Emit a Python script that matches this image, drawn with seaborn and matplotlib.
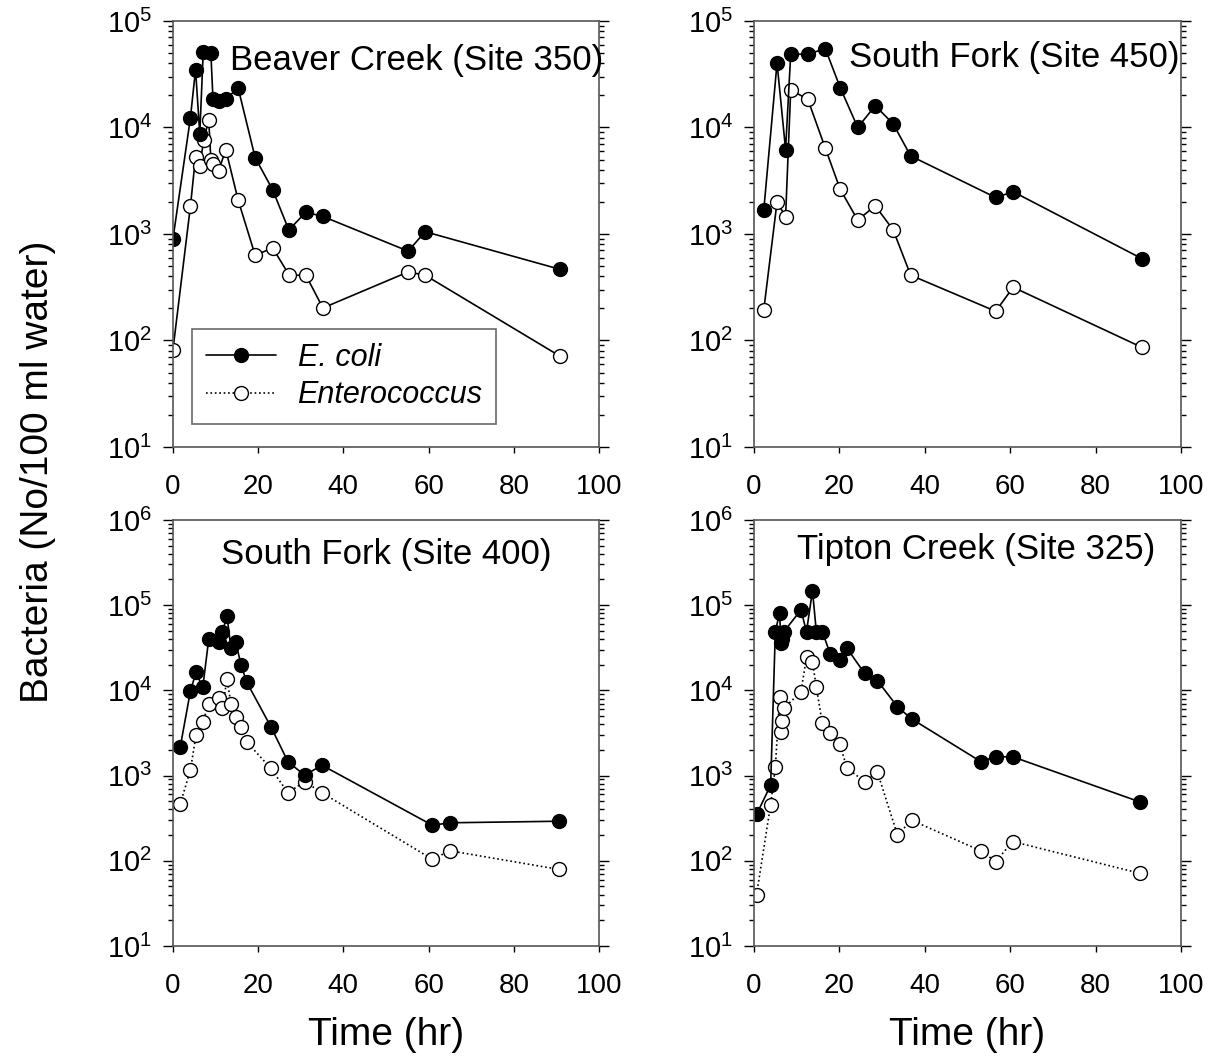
import numpy as np
import pandas as pd
import matplotlib.pyplot as plt
import matplotlib.ticker as mticker
from matplotlib.lines import Line2D
import seaborn as sns

# Beaver Creek (Site 350)
t350_ec = [0, 4.1, 5.3, 6.3, 7.1, 8.9, 9.4, 10.7, 12.4, 15.3, 19.3, 23.4, 27.2, 31.2, 35.2, 55.2, 59.2, 90.9]
ecoli350 = [900, 12300, 35000, 8700, 51000, 50000, 18300, 17800, 18500, 23500, 5200, 2600, 1090, 1600, 1460, 690, 1050, 465]
t350_ent = [0, 4.1, 5.3, 6.3, 7.2, 8.4, 8.9, 9.5, 10.7, 12.4, 15.3, 19.3, 23.4, 27.3, 31.2, 35.2, 55.2, 59.2, 90.9]
ent350 = [82, 1820, 5300, 4300, 7600, 11700, 5000, 4500, 3900, 6200, 2080, 630, 740, 410, 410, 202, 440, 410, 71]

# South Fork (Site 450)
t450 = [2.3, 5.4, 7.4, 8.6, 12.6, 16.7, 20.2, 24.3, 28.4, 32.6, 36.7, 56.6, 60.7, 90.9]
ecoli450 = [1690, 40300, 6200, 48700, 48700, 55000, 23600, 10000, 16000, 10800, 5400, 2200, 2490, 585]
ent450 = [195, 2000, 1450, 22500, 18400, 6400, 2620, 1350, 1840, 1090, 410, 188, 316, 86]

# South Fork (Site 400)
t400 = [1.7, 4.1, 5.4, 7.0, 8.4, 10.7, 11.6, 12.7, 13.6, 14.7, 16.0, 17.3, 23.0, 27.0, 30.9, 35.0, 60.9, 65.0, 90.7]
ecoli400 = [2150, 9800, 16200, 10800, 40000, 37200, 48800, 74500, 31100, 37200, 19800, 12500, 3730, 1450, 1010, 1320, 261, 279, 291]
ent400 = [462, 1160, 2960, 4240, 6840, 8040, 6140, 13600, 6900, 4850, 3700, 2490, 1210, 627, 850, 627, 104, 131, 79]

# Tipton Creek (Site 325)
t325 = [0.6, 3.9, 5.0, 6.0, 6.3, 6.5, 7.0, 11.0, 12.3, 13.7, 14.6, 16.0, 17.9, 20.1, 21.8, 25.9, 28.9, 33.6, 36.9, 53.1, 56.6, 60.6, 90.5]
ecoli325 = [349, 771, 48800, 81700, 35600, 40000, 48800, 87800, 48800, 148000, 48800, 48800, 26400, 22900, 31100, 15800, 13000, 6410, 4630, 1460, 1660, 1660, 488]
ent325 = [40, 457, 1245, 8260, 3240, 4360, 6200, 9550, 24600, 21300, 11000, 4090, 3180, 2320, 1220, 850, 1100, 201, 299, 131, 98, 168, 71]

sns.set_style('ticks')
plt.rcParams['font.family'] = ['Liberation Sans', 'DejaVu Sans']
plt.rcParams['mathtext.fontset'] = 'custom'
plt.rcParams['mathtext.rm'] = 'Liberation Sans'
plt.rcParams['mathtext.it'] = 'Liberation Sans:italic'
plt.rcParams['text.color'] = 'black'
plt.rcParams['xtick.color'] = 'black'
plt.rcParams['ytick.color'] = 'black'

fig = plt.figure(figsize=(12.12, 10.63), dpi=100)
ax1 = fig.add_axes([0.1427, 0.5795, 0.3515, 0.4008])
ax2 = fig.add_axes([0.6221, 0.5795, 0.3523, 0.4008])
ax3 = fig.add_axes([0.1427, 0.1101, 0.3515, 0.4008])
ax4 = fig.add_axes([0.6221, 0.1101, 0.3523, 0.4008])

ms = 10
lw = 1.2


def draw_panel(ax, t_ec, ec, t_ent, ent, ent_ls, title, tx, ty, ytop):
    sns.lineplot(x=t_ent, y=ent, ax=ax, estimator=None, sort=False, color='black',
                 linestyle=ent_ls, linewidth=lw, marker='o', markersize=ms,
                 markerfacecolor='white', markeredgecolor='black', markeredgewidth=1)
    sns.lineplot(x=t_ec, y=ec, ax=ax, estimator=None, sort=False, color='black',
                 linestyle='-', linewidth=lw, marker='o', markersize=ms,
                 markerfacecolor='black', markeredgecolor='black', markeredgewidth=1)
    ax.set_yscale('log')
    ax.set_ylim(10, ytop)
    ax.set_xlim(0, 100)
    ax.set_xticks([0, 20, 40, 60, 80, 100])
    ax.yaxis.set_major_locator(mticker.LogLocator(base=10, numticks=10))
    ax.yaxis.set_minor_locator(mticker.LogLocator(base=10, subs=np.arange(2, 10), numticks=10))
    ax.yaxis.set_minor_formatter(mticker.NullFormatter())
    ax.tick_params(axis='y', which='major', left=True, right=True, direction='out',
                   length=7, width=1, labelsize=21, pad=8)
    ax.tick_params(axis='y', which='minor', left=True, right=True, direction='out',
                   length=3.6, width=1)
    ax.tick_params(axis='x', which='major', bottom=True, top=False, direction='out',
                   length=4.5, width=1, labelsize=20, pad=15)
    for s in ax.spines.values():
        s.set_visible(True)
        s.set_color('#555555')
        s.set_linewidth(1.2)
    ax.set_xlabel('')
    ax.set_ylabel('')
    ax.text(tx, ty, title, transform=ax.transAxes, ha='center', va='center', fontsize=25)


draw_panel(ax1, t350_ec, ecoli350, t350_ent, ent350, '-', 'Beaver Creek (Site 350)', 0.573, 0.908, 1e5)
draw_panel(ax2, t450, ecoli450, t450, ent450, '-', 'South Fork (Site 450)', 0.609, 0.915, 1e5)
draw_panel(ax3, t400, ecoli400, t400, ent400, ':', 'South Fork (Site 400)', 0.5, 0.918, 1e6)
draw_panel(ax4, t325, ecoli325, t325, ent325, ':', 'Tipton Creek (Site 325)', 0.52, 0.93, 1e6)

handles = [
    Line2D([], [], color='black', linestyle='-', linewidth=lw, marker='o', markersize=ms,
           markerfacecolor='black', markeredgecolor='black'),
    Line2D([], [], color='black', linestyle=':', linewidth=lw, marker='o', markersize=ms,
           markerfacecolor='white', markeredgecolor='black'),
]
leg = ax1.legend(handles, ['E. coli', 'Enterococcus'], loc='upper left',
                 bbox_to_anchor=(0.045, 0.277), borderaxespad=0, fancybox=False,
                 frameon=True, fontsize=22, handlelength=2.3, handletextpad=0.7,
                 labelspacing=0.25, borderpad=0.45)
leg.get_frame().set_edgecolor('#444444')
leg.get_frame().set_linewidth(1.2)
for txt in leg.get_texts():
    txt.set_fontstyle('italic')

fig.text(38 / 1212, 1 - 472 / 1063, 'Bacteria (No/100 ml water)', rotation=90,
         ha='center', va='center', fontsize=28)
fig.text(386 / 1212, 1 - 1035 / 1063, 'Time (hr)', ha='center', va='center', fontsize=28)
fig.text(967 / 1212, 1 - 1035 / 1063, 'Time (hr)', ha='center', va='center', fontsize=28)

plt.savefig('out.png', dpi=100)
